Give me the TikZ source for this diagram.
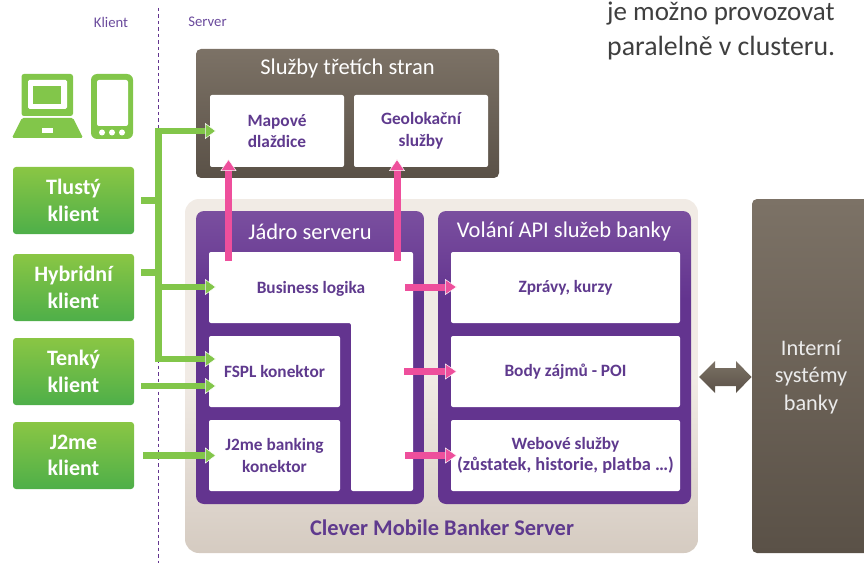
\documentclass[tikz,border=0pt]{standalone}
\usepackage{fontspec}
\setmainfont{Carlito}
\usetikzlibrary{arrows.meta}
\definecolor{purp}{HTML}{63348F}
\definecolor{purpL}{HTML}{7A4F9F}
\definecolor{purpT}{HTML}{5F3A8E}
\definecolor{labT}{HTML}{6A4A9C}
\definecolor{brT}{HTML}{7C7266}
\definecolor{brB}{HTML}{5A5147}
\definecolor{begT}{HTML}{F1EBE5}
\definecolor{begB}{HTML}{D5CBC1}
\definecolor{grnT}{HTML}{8AC644}
\definecolor{grnB}{HTML}{4EAF49}
\definecolor{grn}{HTML}{82C64A}
\definecolor{pink}{HTML}{EE4F9C}
\definecolor{note}{HTML}{3F3F3F}
\pgfdeclareverticalshading{purpshade}{100bp}{color(0bp)=(purp);color(25bp)=(purp);color(60bp)=(purp);color(75bp)=(purpL);color(100bp)=(purpL)}
\pgfdeclareverticalshading{begshade}{100bp}{color(0bp)=(begB);color(25bp)=(begB);color(50bp)=(begT);color(100bp)=(begT)}
\tikzset{
  panel/.style={anchor=north west,inner sep=0pt,outer sep=0pt,rounded corners=#1},
  panel/.default=6pt,
  brownbox/.style={panel=5pt,top color=brT,bottom color=brB},
  purplebox/.style={panel=8pt,shading=purpshade},
  whitebox/.style={panel=2pt,fill=white,align=center,text=purpT,font=\fontsize{17.3}{21.5}\selectfont\bfseries},
  clientbox/.style={panel=3pt,top color=grnT,bottom color=grnB,align=center,text=white,font=\fontsize{22}{26.5}\selectfont\bfseries},
  headtext/.style={text=white,font=\fontsize{22.5}{25}\selectfont},
  greenarrow/.style={draw=grn,line width=6.5pt,-{Triangle[length=11pt,width=16pt,fill=grn,color=white,line width=0.5pt]}},
  greenline/.style={draw=grn,line width=6.5pt},
  pinkarrow/.style={draw=pink,line width=7pt,-{Triangle[length=12pt,width=16pt,fill=pink,color=white,line width=0.5pt]}},
  toplabel/.style={text=labT,font=\fontsize{14.7}{16}\selectfont},
  icon/.style={fill=grn,draw=none}
}
\begin{document}
\begin{tikzpicture}[x=1pt,y=-1pt]
\useasboundingbox (0,0) rectangle (864,564);
\clip (0,0) rectangle (864,564);
% divider
\coordinate (divtop) at (158.5,8);
\coordinate (divbot) at (158.5,563);
\draw[purp,line width=0.9pt,dash pattern=on 3.5pt off 3pt] (divtop) -- (divbot);
\node[toplabel] (klient) at (111,22) {Klient};
\node[toplabel] (server) at (207.5,22) {Server};
% note
\node[anchor=base west,inner sep=0pt,text=note,font=\fontsize{27}{30}\selectfont] (note1) at (607,21) {je možno provozovat};
\node[anchor=base west,inner sep=0pt,text=note,font=\fontsize{27.8}{30}\selectfont] (note2) at (607,56) {paralelně v clusteru.};
% icons
\fill[icon,rounded corners=2.5pt] (21.5,74) rectangle (73,116);
\fill[white,rounded corners=1.5pt] (28,80) rectangle (67,109);
\fill[icon] (33,86) rectangle (61,104);
\fill[icon,rounded corners=1.5pt] (22,118) -- (73,118) -- (83,138) -- (12,138) -- cycle;
\fill[white] (42,128.5) rectangle (53,133);
\fill[icon,rounded corners=6pt] (91,74) rectangle (133,139);
\fill[white,rounded corners=2pt] (97,80) rectangle (128,126);
\fill[white] (102,132.5) circle (3pt) (112,132.5) circle (3pt) (122,132.5) circle (3pt);
% clients
\node[clientbox,minimum width=121pt,minimum height=67pt] (tlusty) at (13,167) {Tlustý\\klient};
\node[clientbox,minimum width=121pt,minimum height=67pt] (hybrid) at (13,254) {Hybridní\\klient};
\node[clientbox,minimum width=121pt,minimum height=67pt] (tenky) at (13,338) {Tenký\\klient};
\node[clientbox,minimum width=121pt,minimum height=67pt] (j2me) at (13,422) {J2me\\klient};
% third party
\node[brownbox,minimum width=303pt,minimum height=129pt] (tretich) at (196,49) {};
\node[headtext] (tretichT) at (347.5,69) {Služby třetích stran};
\node[whitebox,minimum width=134pt,minimum height=72pt] (mapove) at (210,95) {Mapové\\dlaždice};
\node[whitebox,minimum width=134pt,minimum height=72pt] (geo) at (354,95) {Geolokační\\služby};
% server
\node[panel=14pt,shading=begshade,minimum width=513pt,minimum height=354pt] (clever) at (185,199) {};
\node[text=purpT,font=\fontsize{22.4}{24}\selectfont\bfseries] (cleverT) at (442,528) {Clever Mobile Banker Server};
\node[purplebox,minimum width=228pt,minimum height=293pt] (jadro) at (196,211) {};
\node[headtext] (jadroT) at (310,232) {Jádro serveru};
\node[purplebox,minimum width=253pt,minimum height=293pt] (volani) at (438,211) {};
\node[headtext] (volaniT) at (564,232) {Volání API služeb banky};
% business logic L shape
\fill[white,rounded corners=2pt] (209,252) -- (413,252) -- (413,491) -- (351,491) -- (351,323) -- (209,323) -- cycle;
\node[text=purpT,font=\fontsize{17.3}{21}\selectfont\bfseries] (business) at (311,289) {Business logika};
\coordinate (bizleft) at (209,287);
\coordinate (bizright) at (413,287);
\node[whitebox,minimum width=131pt,minimum height=71pt] (fspl) at (209,336) {FSPL konektor};
\node[whitebox,minimum width=131pt,minimum height=71pt] (jbank) at (209,420) {J2me banking\\konektor};
\node[whitebox,minimum width=229pt,minimum height=71pt] (zpravy) at (451,252) {Zprávy, kurzy};
\node[whitebox,minimum width=229pt,minimum height=71pt] (body) at (451,336) {Body zájmů - POI};
\node[whitebox,minimum width=229pt,minimum height=71pt] (web) at (451,420) {Webové služby\\{\fontsize{18.4}{21.5}\selectfont (zůstatek, historie, platba …)}};
% internal
\node[panel=5pt,top color=brT,bottom color=brB,minimum width=130pt,minimum height=354pt] (interni) at (752,199) {};
\node[align=center,text=white!92!black,font=\fontsize{22.3}{27.5}\selectfont] (interniT) at (811,377) {Interní\\systémy\\banky};
% double arrow
\shade[top color=brT,bottom color=brB] (699,377) -- (715,361) -- (715,368) -- (736,368) -- (736,361) -- (751.5,377) -- (736,393) -- (736,386) -- (715,386) -- (715,393) -- cycle;
% green connectors
\coordinate (bustop) at (158.5,131);
\coordinate (busbot) at (158.5,359);
\coordinate (busbiz) at (158.5,287);
\draw[greenarrow] (158.5,362.2) -- (bustop) -- ([xshift=6pt]mapove.west);
\draw[greenline] ([xshift=7pt]tlusty.east) -- (tlusty.east -| bustop);
\draw[greenline] ([xshift=7pt,yshift=15pt]hybrid.east) -- ([yshift=15pt]hybrid.east -| bustop);
\draw[greenarrow] (busbiz) -- ([xshift=7pt]bizleft);
\draw[greenarrow] (busbot) -- ([yshift=12.5pt,xshift=7pt]fspl.west);
\draw[greenarrow] ([xshift=7pt,yshift=-14.5pt]tenky.east) -- ([yshift=-14.5pt,xshift=7pt]fspl.west);
\draw[greenarrow] ([xshift=9pt]j2me.east) -- ([xshift=7pt]jbank.west);
% pink connectors
\coordinate (bizup1) at (228.5,261);
\coordinate (bizup2) at (397,261);
\draw[pinkarrow] (bizup1) -- (bizup1 |- mapove.south) -- ++(0,-8);
\draw[pinkarrow] (bizup2) -- (bizup2 |- geo.south) -- ++(0,-8);
\draw[pinkarrow] (405,287) -- ([xshift=6pt]zpravy.west |- bizright);
\draw[pinkarrow] (404,371.5) -- ([xshift=6pt]body.west);
\draw[pinkarrow] (405,455.5) -- ([xshift=6pt]web.west);
\end{tikzpicture}
\end{document}
